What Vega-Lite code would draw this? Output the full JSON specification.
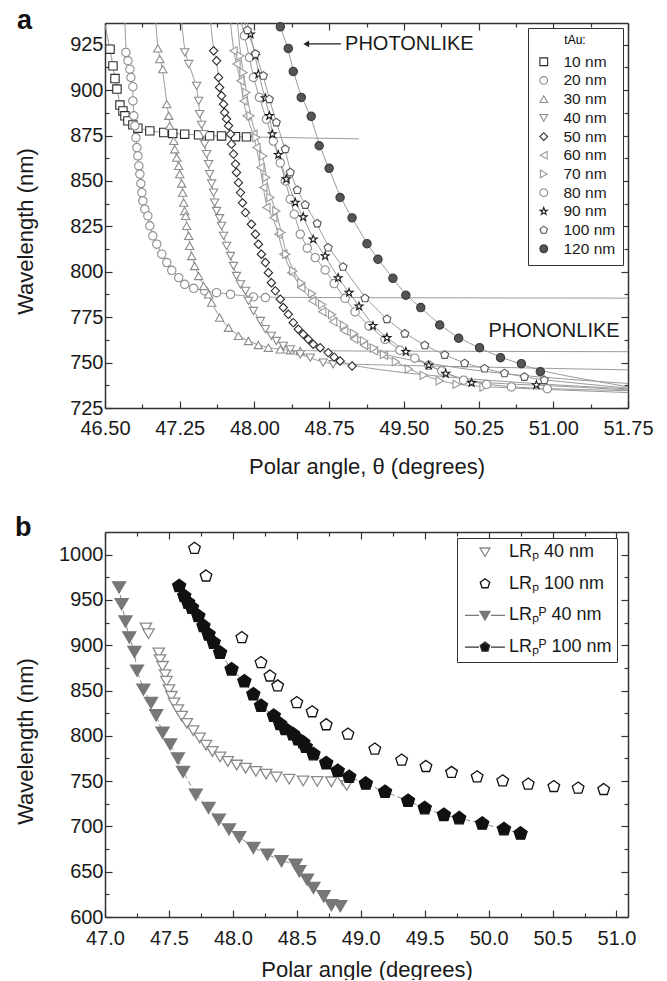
{
"$schema":"https://vega.github.io/schema/vega-lite/v6.json",
"background":"white",
"padding":{"left":14,"top":7,"right":5,"bottom":0},
"spacing":37,
"config":{"view":{"stroke":null},"font":"Liberation Sans",
"axis":{"grid":false,"domainColor":"#333","domainWidth":1.5,"tickColor":"#333","tickWidth":1.2,"labelFont":"Liberation Sans","labelFontSize":20,"labelColor":"#1a1a1a","titleFont":"Liberation Sans","titleFontSize":22,"titleFontWeight":"normal","titleColor":"#1a1a1a","labelFlush":false,"labelOverlap":false,"labelPadding":9}},
"datasets":{
"a":[
{"s":"10 nm","x":46.5,"y":936,"m":0},
{"s":"10 nm","x":46.55,"y":922.6},{"s":"10 nm","x":46.58,"y":913.4},{"s":"10 nm","x":46.6,"y":906.4},{"s":"10 nm","x":46.62,"y":900.6},{"s":"10 nm","x":46.65,"y":891.8},{"s":"10 nm","x":46.68,"y":888.6},{"s":"10 nm","x":46.7,"y":885.9},{"s":"10 nm","x":46.73,"y":883.1},{"s":"10 nm","x":46.78,"y":880.9},{"s":"10 nm","x":46.83,"y":879.1},{"s":"10 nm","x":46.95,"y":877.6},{"s":"10 nm","x":47.09,"y":876.7},{"s":"10 nm","x":47.18,"y":876.2},{"s":"10 nm","x":47.3,"y":875.8},{"s":"10 nm","x":47.44,"y":875.4},{"s":"10 nm","x":47.55,"y":874.9},{"s":"10 nm","x":47.67,"y":874.8},{"s":"10 nm","x":47.81,"y":874.4},{"s":"10 nm","x":47.92,"y":874.3},
{"s":"10 nm","x":49.05,"y":873.2,"m":0},
{"s":"20 nm","x":46.7,"y":937,"m":0},
{"s":"20 nm","x":46.71,"y":920.8},{"s":"20 nm","x":46.73,"y":916.2},{"s":"20 nm","x":46.75,"y":911.6},{"s":"20 nm","x":46.76,"y":907},{"s":"20 nm","x":46.78,"y":901.9},{"s":"20 nm","x":46.78,"y":894.1},{"s":"20 nm","x":46.79,"y":885.9},{"s":"20 nm","x":46.8,"y":880.4},{"s":"20 nm","x":46.81,"y":873.9},{"s":"20 nm","x":46.82,"y":868.4},{"s":"20 nm","x":46.83,"y":863.8},{"s":"20 nm","x":46.84,"y":858.3},{"s":"20 nm","x":46.85,"y":853.8},{"s":"20 nm","x":46.86,"y":848.6},{"s":"20 nm","x":46.87,"y":843.6},{"s":"20 nm","x":46.88,"y":839},{"s":"20 nm","x":46.9,"y":834.5},{"s":"20 nm","x":46.93,"y":830.8},{"s":"20 nm","x":46.95,"y":825.3},{"s":"20 nm","x":46.98,"y":819.8},{"s":"20 nm","x":47.02,"y":815.2},{"s":"20 nm","x":47.07,"y":809.7},{"s":"20 nm","x":47.12,"y":805.1},{"s":"20 nm","x":47.17,"y":800.8},{"s":"20 nm","x":47.24,"y":796.8},{"s":"20 nm","x":47.3,"y":793.1},{"s":"20 nm","x":47.39,"y":790.9},{"s":"20 nm","x":47.5,"y":789.5},{"s":"20 nm","x":47.62,"y":788.5},{"s":"20 nm","x":47.76,"y":787.6},{"s":"20 nm","x":47.99,"y":786.2},{"s":"20 nm","x":48.11,"y":785.8},
{"s":"20 nm","x":51.75,"y":785.5,"m":0},
{"s":"30 nm","x":47.01,"y":937,"m":0},
{"s":"30 nm","x":47.03,"y":923},{"s":"30 nm","x":47.05,"y":917.1},{"s":"30 nm","x":47.08,"y":911.6},{"s":"30 nm","x":47.12,"y":892.3},{"s":"30 nm","x":47.14,"y":885.9},{"s":"30 nm","x":47.15,"y":880.4},{"s":"30 nm","x":47.19,"y":872.1},{"s":"30 nm","x":47.2,"y":867.5},{"s":"30 nm","x":47.22,"y":862.9},{"s":"30 nm","x":47.24,"y":858.3},{"s":"30 nm","x":47.25,"y":853.8},{"s":"30 nm","x":47.27,"y":848.6},{"s":"30 nm","x":47.28,"y":843.6},{"s":"30 nm","x":47.29,"y":838.1},{"s":"30 nm","x":47.3,"y":833.5},{"s":"30 nm","x":47.31,"y":830.8},{"s":"30 nm","x":47.32,"y":825.3},{"s":"30 nm","x":47.34,"y":819.8},{"s":"30 nm","x":47.35,"y":814.3},{"s":"30 nm","x":47.37,"y":808.7},{"s":"30 nm","x":47.4,"y":803.2},{"s":"30 nm","x":47.44,"y":797.7},{"s":"30 nm","x":47.49,"y":792.2},{"s":"30 nm","x":47.54,"y":787.6},{"s":"30 nm","x":47.57,"y":783},{"s":"30 nm","x":47.65,"y":774.8},{"s":"30 nm","x":47.74,"y":769.2},{"s":"30 nm","x":47.84,"y":764.7},{"s":"30 nm","x":47.94,"y":761.9},{"s":"30 nm","x":48.04,"y":759.7},{"s":"30 nm","x":48.14,"y":758.2},{"s":"30 nm","x":48.26,"y":757.3},{"s":"30 nm","x":48.36,"y":756.8},{"s":"30 nm","x":48.46,"y":756.4},
{"s":"30 nm","x":51.75,"y":756,"m":0},
{"s":"40 nm","x":47.27,"y":937,"m":0},
{"s":"40 nm","x":47.3,"y":920.8},{"s":"40 nm","x":47.34,"y":914.4},{"s":"40 nm","x":47.42,"y":902.4},{"s":"40 nm","x":47.44,"y":894.1},{"s":"40 nm","x":47.45,"y":886.8},{"s":"40 nm","x":47.47,"y":880.9},{"s":"40 nm","x":47.49,"y":875.8},{"s":"40 nm","x":47.5,"y":870.3},{"s":"40 nm","x":47.52,"y":864.8},{"s":"40 nm","x":47.54,"y":859.3},{"s":"40 nm","x":47.55,"y":853.8},{"s":"40 nm","x":47.57,"y":848.6},{"s":"40 nm","x":47.59,"y":843.6},{"s":"40 nm","x":47.6,"y":838.1},{"s":"40 nm","x":47.62,"y":833.5},{"s":"40 nm","x":47.65,"y":829.5},{"s":"40 nm","x":47.67,"y":825.3},{"s":"40 nm","x":47.69,"y":819.8},{"s":"40 nm","x":47.72,"y":814.3},{"s":"40 nm","x":47.76,"y":808.7},{"s":"40 nm","x":47.79,"y":803.2},{"s":"40 nm","x":47.82,"y":797.7},{"s":"40 nm","x":47.86,"y":793.1},{"s":"40 nm","x":47.91,"y":789.5},{"s":"40 nm","x":47.94,"y":784},{"s":"40 nm","x":47.99,"y":778.4},{"s":"40 nm","x":48.06,"y":772.9},{"s":"40 nm","x":48.11,"y":768.4},{"s":"40 nm","x":48.17,"y":764.7},{"s":"40 nm","x":48.22,"y":761.9},{"s":"40 nm","x":48.29,"y":759.2},{"s":"40 nm","x":48.36,"y":757.3},{"s":"40 nm","x":48.46,"y":754.5},{"s":"40 nm","x":48.56,"y":752.7},{"s":"40 nm","x":48.69,"y":750},{"s":"40 nm","x":48.79,"y":749.1},
{"s":"40 nm","x":51.75,"y":746,"m":0},
{"s":"50 nm","x":47.56,"y":937,"m":0},
{"s":"50 nm","x":47.59,"y":921.7},{"s":"50 nm","x":47.62,"y":916.2},{"s":"50 nm","x":47.64,"y":907},{"s":"50 nm","x":47.65,"y":901.5},{"s":"50 nm","x":47.67,"y":896.9},{"s":"50 nm","x":47.69,"y":892.3},{"s":"50 nm","x":47.7,"y":887.7},{"s":"50 nm","x":47.72,"y":884.1},{"s":"50 nm","x":47.74,"y":880.4},{"s":"50 nm","x":47.76,"y":875.8},{"s":"50 nm","x":47.77,"y":870.3},{"s":"50 nm","x":47.79,"y":864.8},{"s":"50 nm","x":47.81,"y":859.3},{"s":"50 nm","x":47.82,"y":854.7},{"s":"50 nm","x":47.84,"y":849.1},{"s":"50 nm","x":47.86,"y":843.6},{"s":"50 nm","x":47.88,"y":838},{"s":"50 nm","x":47.91,"y":832.6},{"s":"50 nm","x":47.97,"y":826.2},{"s":"50 nm","x":48.01,"y":820.7},{"s":"50 nm","x":48.04,"y":815.2},{"s":"50 nm","x":48.07,"y":809.7},{"s":"50 nm","x":48.11,"y":805.1},{"s":"50 nm","x":48.14,"y":799.5},{"s":"50 nm","x":48.17,"y":794},{"s":"50 nm","x":48.21,"y":789.5},{"s":"50 nm","x":48.26,"y":784.9},{"s":"50 nm","x":48.29,"y":780.3},{"s":"50 nm","x":48.34,"y":776.6},{"s":"50 nm","x":48.39,"y":772},{"s":"50 nm","x":48.44,"y":768.4},{"s":"50 nm","x":48.49,"y":765.6},{"s":"50 nm","x":48.54,"y":762.9},{"s":"50 nm","x":48.59,"y":760.1},{"s":"50 nm","x":48.66,"y":758.2},{"s":"50 nm","x":48.74,"y":755.5},{"s":"50 nm","x":48.8,"y":753},{"s":"50 nm","x":48.86,"y":750.9},{"s":"50 nm","x":48.98,"y":748.1},
{"s":"50 nm","x":49.6,"y":743.5,"m":0},{"s":"50 nm","x":50.6,"y":739,"m":0},{"s":"50 nm","x":51.75,"y":735.5,"m":0},
{"s":"60 nm","x":47.76,"y":937,"m":0},
{"s":"60 nm","x":47.79,"y":921.7},{"s":"60 nm","x":47.82,"y":914.4},{"s":"60 nm","x":47.86,"y":905.2},{"s":"60 nm","x":47.89,"y":894.1},{"s":"60 nm","x":47.92,"y":885.9},{"s":"60 nm","x":47.99,"y":875.8},{"s":"60 nm","x":48.02,"y":868.4},{"s":"60 nm","x":48.06,"y":857.4},{"s":"60 nm","x":48.09,"y":846.4},{"s":"60 nm","x":48.12,"y":835.4},{"s":"60 nm","x":48.19,"y":829.8},{"s":"60 nm","x":48.24,"y":820.7},{"s":"60 nm","x":48.29,"y":809.7},{"s":"60 nm","x":48.37,"y":799.5},{"s":"60 nm","x":48.47,"y":791.2},{"s":"60 nm","x":48.58,"y":784},{"s":"60 nm","x":48.68,"y":778},{"s":"60 nm","x":48.79,"y":772.5},{"s":"60 nm","x":48.9,"y":767.5},{"s":"60 nm","x":49,"y":763},{"s":"60 nm","x":49.1,"y":759.5},{"s":"60 nm","x":49.2,"y":756.5},{"s":"60 nm","x":49.3,"y":754},
{"s":"60 nm","x":50.3,"y":744,"m":0},{"s":"60 nm","x":51.75,"y":738.5,"m":0},
{"s":"70 nm","x":47.83,"y":937,"m":0},
{"s":"70 nm","x":47.86,"y":918.9},{"s":"70 nm","x":47.89,"y":909.7},{"s":"70 nm","x":47.92,"y":898.7},{"s":"70 nm","x":47.96,"y":885.9},{"s":"70 nm","x":48.02,"y":873.9},{"s":"70 nm","x":48.09,"y":863.8},{"s":"70 nm","x":48.12,"y":851.9},{"s":"70 nm","x":48.16,"y":840.9},{"s":"70 nm","x":48.22,"y":833.5},{"s":"70 nm","x":48.27,"y":821.6},{"s":"70 nm","x":48.32,"y":809.7},{"s":"70 nm","x":48.39,"y":800.5},{"s":"70 nm","x":48.47,"y":794},{"s":"70 nm","x":48.58,"y":788},{"s":"70 nm","x":48.68,"y":782},{"s":"70 nm","x":48.78,"y":776.5},{"s":"70 nm","x":48.9,"y":770.5},{"s":"70 nm","x":49,"y":766},{"s":"70 nm","x":49.1,"y":762},{"s":"70 nm","x":49.2,"y":758},{"s":"70 nm","x":49.3,"y":754.5},{"s":"70 nm","x":49.42,"y":750.5},{"s":"70 nm","x":49.55,"y":746.5},{"s":"70 nm","x":49.7,"y":743},{"s":"70 nm","x":49.86,"y":740},{"s":"70 nm","x":50.03,"y":738},{"s":"70 nm","x":50.3,"y":736.5},
{"s":"70 nm","x":51.75,"y":733.5,"m":0},
{"s":"80 nm","x":47.87,"y":937,"m":0},
{"s":"80 nm","x":47.9,"y":930},{"s":"80 nm","x":47.95,"y":918},{"s":"80 nm","x":47.99,"y":907},{"s":"80 nm","x":48.05,"y":896},{"s":"80 nm","x":48.12,"y":884},{"s":"80 nm","x":48.19,"y":872},{"s":"80 nm","x":48.26,"y":860},{"s":"80 nm","x":48.31,"y":850},{"s":"80 nm","x":48.36,"y":840},{"s":"80 nm","x":48.4,"y":831.7},{"s":"80 nm","x":48.46,"y":820.7},{"s":"80 nm","x":48.53,"y":813},{"s":"80 nm","x":48.61,"y":807.8},{"s":"80 nm","x":48.71,"y":801},{"s":"80 nm","x":48.8,"y":793.5},{"s":"80 nm","x":48.91,"y":785.4},{"s":"80 nm","x":49.01,"y":777.9},{"s":"80 nm","x":49.15,"y":770.2},{"s":"80 nm","x":49.31,"y":762.8},{"s":"80 nm","x":49.46,"y":756.8},{"s":"80 nm","x":49.61,"y":752.4},{"s":"80 nm","x":49.75,"y":748.5},{"s":"80 nm","x":49.88,"y":745.4},{"s":"80 nm","x":50.1,"y":740.3},{"s":"80 nm","x":50.33,"y":738},{"s":"80 nm","x":50.58,"y":736.6},{"s":"80 nm","x":50.94,"y":735.6},
{"s":"80 nm","x":51.75,"y":734.5,"m":0},
{"s":"90 nm","x":47.93,"y":937,"m":0},
{"s":"90 nm","x":47.96,"y":930.8},{"s":"90 nm","x":48.01,"y":918.9},{"s":"90 nm","x":48.04,"y":908.8},{"s":"90 nm","x":48.11,"y":895.6},{"s":"90 nm","x":48.15,"y":885.9},{"s":"90 nm","x":48.18,"y":875.8},{"s":"90 nm","x":48.24,"y":864.4},{"s":"90 nm","x":48.32,"y":851},{"s":"90 nm","x":48.41,"y":838.1},{"s":"90 nm","x":48.49,"y":830.2},{"s":"90 nm","x":48.59,"y":817.9},{"s":"90 nm","x":48.71,"y":808.7},{"s":"90 nm","x":48.84,"y":796.6},{"s":"90 nm","x":48.95,"y":788.5},{"s":"90 nm","x":49.05,"y":781},{"s":"90 nm","x":49.19,"y":770.2},{"s":"90 nm","x":49.33,"y":763.7},{"s":"90 nm","x":49.52,"y":756},{"s":"90 nm","x":49.75,"y":748.5},{"s":"90 nm","x":49.92,"y":743.9},{"s":"90 nm","x":50.18,"y":738.9},{"s":"90 nm","x":50.83,"y":737.7},
{"s":"90 nm","x":51.75,"y":735,"m":0},
{"s":"100 nm","x":47.9,"y":937,"m":0},
{"s":"100 nm","x":47.93,"y":933},{"s":"100 nm","x":48.01,"y":920},{"s":"100 nm","x":48.09,"y":907.9},{"s":"100 nm","x":48.15,"y":895},{"s":"100 nm","x":48.22,"y":882.2},{"s":"100 nm","x":48.31,"y":867.5},{"s":"100 nm","x":48.36,"y":854.7},{"s":"100 nm","x":48.43,"y":845},{"s":"100 nm","x":48.51,"y":836.8},{"s":"100 nm","x":48.63,"y":826.6},{"s":"100 nm","x":48.74,"y":813.3},{"s":"100 nm","x":48.89,"y":802.7},{"s":"100 nm","x":49.11,"y":785.4},{"s":"100 nm","x":49.33,"y":773.9},{"s":"100 nm","x":49.51,"y":765.9},{"s":"100 nm","x":49.71,"y":759.5},{"s":"100 nm","x":49.91,"y":754.2},{"s":"100 nm","x":50.11,"y":749.6},{"s":"100 nm","x":50.31,"y":746.7},{"s":"100 nm","x":50.51,"y":744.1},{"s":"100 nm","x":50.71,"y":742.1},{"s":"100 nm","x":50.91,"y":740.3},
{"s":"100 nm","x":51.75,"y":736,"m":0},
{"s":"120 nm","x":48.23,"y":937,"m":0},
{"s":"120 nm","x":48.26,"y":934.9},{"s":"120 nm","x":48.34,"y":923},{"s":"120 nm","x":48.39,"y":910.3},{"s":"120 nm","x":48.47,"y":896},{"s":"120 nm","x":48.57,"y":885.6},{"s":"120 nm","x":48.65,"y":869.4},{"s":"120 nm","x":48.75,"y":857},{"s":"120 nm","x":48.86,"y":840.9},{"s":"120 nm","x":48.98,"y":829.7},{"s":"120 nm","x":49.13,"y":815.5},{"s":"120 nm","x":49.24,"y":806.9},{"s":"120 nm","x":49.39,"y":796.4},{"s":"120 nm","x":49.52,"y":787.1},{"s":"120 nm","x":49.67,"y":780.3},{"s":"120 nm","x":49.86,"y":770.7},{"s":"120 nm","x":50.05,"y":763.4},{"s":"120 nm","x":50.26,"y":758.2},{"s":"120 nm","x":50.47,"y":752.7},{"s":"120 nm","x":50.68,"y":749.4},{"s":"120 nm","x":50.87,"y":745},
{"s":"120 nm","x":51.75,"y":736.7,"m":0}
],
"b":[
{"s":"LRₚ 40 nm","x":47.32,"y":919.3},{"s":"LRₚ 40 nm","x":47.34,"y":913},{"s":"LRₚ 40 nm","x":47.42,"y":891.7},{"s":"LRₚ 40 nm","x":47.43,"y":884.3},{"s":"LRₚ 40 nm","x":47.45,"y":877},{"s":"LRₚ 40 nm","x":47.47,"y":867.8},{"s":"LRₚ 40 nm","x":47.48,"y":860.5},{"s":"LRₚ 40 nm","x":47.5,"y":851.3},{"s":"LRₚ 40 nm","x":47.52,"y":843.9},{"s":"LRₚ 40 nm","x":47.54,"y":836.6},{"s":"LRₚ 40 nm","x":47.57,"y":829.2},{"s":"LRₚ 40 nm","x":47.6,"y":822},{"s":"LRₚ 40 nm","x":47.64,"y":814},{"s":"LRₚ 40 nm","x":47.69,"y":806},{"s":"LRₚ 40 nm","x":47.74,"y":798},{"s":"LRₚ 40 nm","x":47.79,"y":790},{"s":"LRₚ 40 nm","x":47.84,"y":783},{"s":"LRₚ 40 nm","x":47.9,"y":777},{"s":"LRₚ 40 nm","x":47.96,"y":772},{"s":"LRₚ 40 nm","x":48.03,"y":768},{"s":"LRₚ 40 nm","x":48.1,"y":764.5},{"s":"LRₚ 40 nm","x":48.18,"y":761},{"s":"LRₚ 40 nm","x":48.26,"y":758},{"s":"LRₚ 40 nm","x":48.34,"y":755},{"s":"LRₚ 40 nm","x":48.44,"y":752.5},{"s":"LRₚ 40 nm","x":48.55,"y":750.5},{"s":"LRₚ 40 nm","x":48.66,"y":750},{"s":"LRₚ 40 nm","x":48.77,"y":749.5},{"s":"LRₚ 40 nm","x":48.86,"y":751},{"s":"LRₚ 40 nm","x":48.89,"y":745.5},
{"s":"LRₚ 100 nm","x":47.7,"y":1006.9},{"s":"LRₚ 100 nm","x":47.79,"y":976.4},{"s":"LRₚ 100 nm","x":48.07,"y":908.3},{"s":"LRₚ 100 nm","x":48.22,"y":880.7},{"s":"LRₚ 100 nm","x":48.29,"y":866},{"s":"LRₚ 100 nm","x":48.35,"y":855},{"s":"LRₚ 100 nm","x":48.5,"y":836.6},{"s":"LRₚ 100 nm","x":48.62,"y":826.5},{"s":"LRₚ 100 nm","x":48.73,"y":812.2},{"s":"LRₚ 100 nm","x":48.9,"y":801.8},{"s":"LRₚ 100 nm","x":49.11,"y":785.3},{"s":"LRₚ 100 nm","x":49.32,"y":773.1},{"s":"LRₚ 100 nm","x":49.51,"y":766.1},{"s":"LRₚ 100 nm","x":49.71,"y":759.5},{"s":"LRₚ 100 nm","x":49.91,"y":754.7},{"s":"LRₚ 100 nm","x":50.11,"y":750.3},{"s":"LRₚ 100 nm","x":50.31,"y":746.6},{"s":"LRₚ 100 nm","x":50.51,"y":744},{"s":"LRₚ 100 nm","x":50.7,"y":742.2},{"s":"LRₚ 100 nm","x":50.9,"y":740.7},
{"s":"LRₚᴾ 40 nm","x":47.11,"y":964.2},{"s":"LRₚᴾ 40 nm","x":47.13,"y":945.8},{"s":"LRₚᴾ 40 nm","x":47.16,"y":926.5},{"s":"LRₚᴾ 40 nm","x":47.19,"y":909},{"s":"LRₚᴾ 40 nm","x":47.23,"y":892.9},{"s":"LRₚᴾ 40 nm","x":47.25,"y":872.3},{"s":"LRₚᴾ 40 nm","x":47.3,"y":851.3},{"s":"LRₚᴾ 40 nm","x":47.36,"y":836.6},{"s":"LRₚᴾ 40 nm","x":47.4,"y":823},{"s":"LRₚᴾ 40 nm","x":47.45,"y":803.7},{"s":"LRₚᴾ 40 nm","x":47.51,"y":790.8},{"s":"LRₚᴾ 40 nm","x":47.57,"y":775.3},{"s":"LRₚᴾ 40 nm","x":47.61,"y":760.6},{"s":"LRₚᴾ 40 nm","x":47.71,"y":735.5},{"s":"LRₚᴾ 40 nm","x":47.81,"y":720.8},{"s":"LRₚᴾ 40 nm","x":47.89,"y":707.9},{"s":"LRₚᴾ 40 nm","x":47.97,"y":696.9},{"s":"LRₚᴾ 40 nm","x":48.05,"y":688.4},{"s":"LRₚᴾ 40 nm","x":48.16,"y":676.6},{"s":"LRₚᴾ 40 nm","x":48.27,"y":669.2},{"s":"LRₚᴾ 40 nm","x":48.38,"y":661.9},{"s":"LRₚᴾ 40 nm","x":48.49,"y":658.2},{"s":"LRₚᴾ 40 nm","x":48.52,"y":650.8},{"s":"LRₚᴾ 40 nm","x":48.58,"y":641.6},{"s":"LRₚᴾ 40 nm","x":48.63,"y":632.4},{"s":"LRₚᴾ 40 nm","x":48.71,"y":623.2},{"s":"LRₚᴾ 40 nm","x":48.77,"y":613.3},{"s":"LRₚᴾ 40 nm","x":48.84,"y":612.2},
{"s":"LRₚᴾ 100 nm","x":47.58,"y":965.3},{"s":"LRₚᴾ 100 nm","x":47.62,"y":954.3},{"s":"LRₚᴾ 100 nm","x":47.65,"y":947},{"s":"LRₚᴾ 100 nm","x":47.68,"y":941.4},{"s":"LRₚᴾ 100 nm","x":47.73,"y":932.2},{"s":"LRₚᴾ 100 nm","x":47.77,"y":921.2},{"s":"LRₚᴾ 100 nm","x":47.81,"y":911.9},{"s":"LRₚᴾ 100 nm","x":47.85,"y":902.8},{"s":"LRₚᴾ 100 nm","x":47.9,"y":891.7},{"s":"LRₚᴾ 100 nm","x":47.99,"y":873.3},{"s":"LRₚᴾ 100 nm","x":48.09,"y":860.1},{"s":"LRₚᴾ 100 nm","x":48.16,"y":845.8},{"s":"LRₚᴾ 100 nm","x":48.22,"y":833.1},{"s":"LRₚᴾ 100 nm","x":48.32,"y":822.1},{"s":"LRₚᴾ 100 nm","x":48.37,"y":812.9},{"s":"LRₚᴾ 100 nm","x":48.41,"y":807.4},{"s":"LRₚᴾ 100 nm","x":48.47,"y":801.8},{"s":"LRₚᴾ 100 nm","x":48.51,"y":796.3},{"s":"LRₚᴾ 100 nm","x":48.55,"y":792.6},{"s":"LRₚᴾ 100 nm","x":48.57,"y":787.8},{"s":"LRₚᴾ 100 nm","x":48.63,"y":779.7},{"s":"LRₚᴾ 100 nm","x":48.73,"y":769.8},{"s":"LRₚᴾ 100 nm","x":48.82,"y":761.3},{"s":"LRₚᴾ 100 nm","x":48.91,"y":754.7},{"s":"LRₚᴾ 100 nm","x":49.04,"y":747.3},{"s":"LRₚᴾ 100 nm","x":49.19,"y":738.1},{"s":"LRₚᴾ 100 nm","x":49.37,"y":728.2},{"s":"LRₚᴾ 100 nm","x":49.5,"y":720.1},{"s":"LRₚᴾ 100 nm","x":49.65,"y":712.7},{"s":"LRₚᴾ 100 nm","x":49.77,"y":709},{"s":"LRₚᴾ 100 nm","x":49.95,"y":703.1},{"s":"LRₚᴾ 100 nm","x":50.12,"y":696.9},{"s":"LRₚᴾ 100 nm","x":50.25,"y":692.1}
]},
"vconcat":[
{
"width":523,"height":385,
"title":{"text":"a","anchor":"start","frame":"group","dx":-88,"offset":-15,"fontSize":27,"fontWeight":"bold","color":"#111","font":"Liberation Sans"},
"resolve":{"axis":{"x":"independent","y":"independent"}},
"layer":[
{"data":{"name":"a"},
"mark":{"type":"line","clip":true,"interpolate":"basis","strokeWidth":1,"color":"#9a9a9a"},
"encoding":{
"x":{"field":"x","type":"quantitative","scale":{"domain":[46.5,51.75],"nice":false,"zero":false},
"axis":{"orient":"bottom","values":[46.5,46.875,47.25,47.625,48,48.375,48.75,49.125,49.5,49.875,50.25,50.625,51,51.375,51.75],
"labelExpr":"abs(datum.value/0.75-round(datum.value/0.75))<0.001 ? format(datum.value,'.2f') : ''",
"labelPadding":17,
"tickSize":{"condition":{"test":"abs(datum.value/0.75-round(datum.value/0.75))<0.001","value":-7},"value":-4},
"title":"Polar angle, θ (degrees)","titleY":58,"titleBaseline":"middle"}},
"y":{"field":"y","type":"quantitative","scale":{"domain":[725,937],"nice":false,"zero":false},
"axis":{"orient":"left","values":[725,737.5,750,762.5,775,787.5,800,812.5,825,837.5,850,862.5,875,887.5,900,912.5,925],
"labelExpr":"datum.value%25==0 ? format(datum.value,'d') : ''",
"tickSize":{"condition":{"test":"datum.value%25==0","value":-7},"value":-4},
"title":"Wavelength (nm)","titleX":-80,"titleY":208,"titleBaseline":"middle"}},
"detail":{"field":"s"},
"order":{"field":"y","sort":"descending"}}},
{"data":{"name":"a"},
"transform":[{"filter":"datum.m !== 0"}],
"mark":{"type":"point","strokeWidth":1.1,"opacity":1,"size":70},
"encoding":{
"x":{"field":"x","type":"quantitative",
"axis":{"orient":"top","values":[46.5,46.875,47.25,47.625,48,48.375,48.75,49.125,49.5,49.875,50.25,50.625,51,51.375,51.75],"labels":false,"title":null,
"tickSize":{"condition":{"test":"abs(datum.value/0.75-round(datum.value/0.75))<0.001","value":-7},"value":-4}}},
"y":{"field":"y","type":"quantitative",
"axis":{"orient":"right","values":[725,737.5,750,762.5,775,787.5,800,812.5,825,837.5,850,862.5,875,887.5,900,912.5,925],"labels":false,"title":null,
"tickSize":{"condition":{"test":"datum.value%25==0","value":-7},"value":-4}}},
"shape":{"field":"s","type":"nominal",
"scale":{"domain":["10 nm","20 nm","30 nm","40 nm","50 nm","60 nm","70 nm","80 nm","90 nm","100 nm","120 nm"],
"range":["square","circle","triangle-up","triangle-down","diamond","triangle-left","triangle-right","circle","M0,-1L0.235,-0.324L0.951,-0.309L0.38,0.124L0.588,0.809L0,0.4L-0.588,0.809L-0.38,0.124L-0.951,-0.309L-0.235,-0.324Z","M0,-1L0.951,-0.309L0.588,0.809L-0.588,0.809L-0.951,-0.309Z","circle"]},
"legend":{"title":"tAu:","orient":"none","legendX":423,"legendY":5,"padding":7,"strokeColor":"#333","fillColor":"white","titleFontSize":12,"titleFontWeight":"normal","titleAnchor":"middle","titlePadding":7,"labelFontSize":15.5,"labelFont":"Liberation Sans","labelColor":"#1a1a1a","symbolSize":60,"symbolStrokeWidth":1.1,"rowPadding":1.7,"labelOffset":12,"symbolOffset":1}},
"stroke":{"field":"s","type":"nominal",
"scale":{"domain":["10 nm","20 nm","30 nm","40 nm","50 nm","60 nm","70 nm","80 nm","90 nm","100 nm","120 nm"],
"range":["#2a2a2a","#8c8c8c","#8c8c8c","#8c8c8c","#2a2a2a","#9a9a9a","#9a9a9a","#8c8c8c","#1a1a1a","#555555","#3a3a3a"]},
"legend":{"title":"tAu:","orient":"none","legendX":423,"legendY":5,"padding":7,"strokeColor":"#333","fillColor":"white","titleFontSize":12,"titleFontWeight":"normal","titleAnchor":"middle","titlePadding":7,"labelFontSize":15.5,"labelFont":"Liberation Sans","labelColor":"#1a1a1a","symbolSize":60,"symbolStrokeWidth":1.1,"rowPadding":1.7,"labelOffset":12,"symbolOffset":1}},
"fill":{"field":"s","type":"nominal",
"scale":{"domain":["10 nm","20 nm","30 nm","40 nm","50 nm","60 nm","70 nm","80 nm","90 nm","100 nm","120 nm"],
"range":["white","white","white","white","white","white","white","white","white","white","#555555"]},
"legend":{"title":"tAu:","orient":"none","legendX":423,"legendY":5,"padding":7,"strokeColor":"#333","fillColor":"white","titleFontSize":12,"titleFontWeight":"normal","titleAnchor":"middle","titlePadding":7,"labelFontSize":15.5,"labelFont":"Liberation Sans","labelColor":"#1a1a1a","symbolSize":60,"symbolStrokeWidth":1.1,"rowPadding":1.7,"labelOffset":12,"symbolOffset":1}}}},
{"data":{"values":[{"x":48.53,"x2":48.87,"y":925.5}]},
"mark":{"type":"rule","color":"#222","strokeWidth":1.3},
"encoding":{"x":{"field":"x","type":"quantitative","axis":null},"x2":{"field":"x2"},"y":{"field":"y","type":"quantitative","axis":null}}},
{"data":{"values":[{"x":48.52,"y":925.5}]},
"mark":{"type":"point","shape":"triangle-left","filled":true,"color":"#222","size":45,"opacity":1},
"encoding":{"x":{"field":"x","type":"quantitative","axis":null},"y":{"field":"y","type":"quantitative","axis":null}}},
{"data":{"values":[{"x":48.91,"y":925.5,"t":"PHOTONLIKE"},{"x":50.35,"y":767.4,"t":"PHONONLIKE"}]},
"mark":{"type":"text","align":"left","baseline":"middle","fontSize":20,"font":"Liberation Sans","color":"#1a1a1a"},
"encoding":{"x":{"field":"x","type":"quantitative","axis":null},"y":{"field":"y","type":"quantitative","axis":null},"text":{"field":"t"}}}
]},
{
"width":523,"height":385,
"title":{"text":"b","anchor":"start","frame":"group","dx":-90,"offset":-11,"fontSize":27,"fontWeight":"bold","color":"#111","font":"Liberation Sans"},
"resolve":{"axis":{"x":"independent","y":"independent"},"scale":{"shape":"independent","fill":"independent","stroke":"independent"}},
"layer":[
{"data":{"name":"b"},
"transform":[{"filter":"indexof(datum.s,'ᴾ')>=0"}],
"mark":{"type":"line","strokeDash":[5,3],"strokeWidth":1,"color":"#8a8a8a"},
"encoding":{
"x":{"field":"x","type":"quantitative","scale":{"domain":[47,51.09],"nice":false,"zero":false},
"axis":{"orient":"bottom","values":[47,47.25,47.5,47.75,48,48.25,48.5,48.75,49,49.25,49.5,49.75,50,50.25,50.5,50.75,51],
"labelExpr":"abs(datum.value*2-round(datum.value*2))<0.001 ? format(datum.value,'.1f') : ''",
"labelPadding":18,
"tickSize":{"condition":{"test":"abs(datum.value*2-round(datum.value*2))<0.001","value":-7},"value":-4},
"title":"Polar angle (degrees)","titleY":52,"titleBaseline":"middle"}},
"y":{"field":"y","type":"quantitative","scale":{"domain":[600,1025],"nice":false,"zero":false},
"axis":{"orient":"left","values":[600,625,650,675,700,725,750,775,800,825,850,875,900,925,950,975,1000],
"labelExpr":"datum.value%50==0 ? format(datum.value,'d') : ''",
"tickSize":{"condition":{"test":"datum.value%50==0","value":-7},"value":-4},
"title":"Wavelength (nm)","titleX":-80,"titleY":209,"titleBaseline":"middle"}},
"detail":{"field":"s"}}},
{"data":{"name":"b"},
"mark":{"type":"point","strokeWidth":1.3,"opacity":1},
"encoding":{
"x":{"field":"x","type":"quantitative",
"axis":{"orient":"top","values":[47,47.25,47.5,47.75,48,48.25,48.5,48.75,49,49.25,49.5,49.75,50,50.25,50.5,50.75,51],"labels":false,"title":null,
"tickSize":{"condition":{"test":"abs(datum.value*2-round(datum.value*2))<0.001","value":-7},"value":-4}}},
"y":{"field":"y","type":"quantitative",
"axis":{"orient":"right","values":[600,625,650,675,700,725,750,775,800,825,850,875,900,925,950,975,1000],"labels":false,"title":null,
"tickSize":{"condition":{"test":"datum.value%50==0","value":-7},"value":-4}}},
"shape":{"field":"s","type":"nominal","scale":{"domain":["LRₚ 40 nm","LRₚ 100 nm","LRₚᴾ 40 nm","LRₚᴾ 100 nm"],
"range":["M-1,-0.8L1,-0.8L0,0.9Z","M0,-1L0.951,-0.309L0.588,0.809L-0.588,0.809L-0.951,-0.309Z","M-1,-0.8L1,-0.8L0,0.9Z","M0,-1L0.951,-0.309L0.588,0.809L-0.588,0.809L-0.951,-0.309Z"]},"legend":null},
"stroke":{"field":"s","type":"nominal","scale":{"domain":["LRₚ 40 nm","LRₚ 100 nm","LRₚᴾ 40 nm","LRₚᴾ 100 nm"],"range":["#8a8a8a","#111111","#777777","#111111"]},"legend":null},
"fill":{"field":"s","type":"nominal","scale":{"domain":["LRₚ 40 nm","LRₚ 100 nm","LRₚᴾ 40 nm","LRₚᴾ 100 nm"],"range":["white","white","#777777","#111111"]},"legend":null},
"size":{"field":"s","type":"nominal","scale":{"domain":["LRₚ 40 nm","LRₚ 100 nm","LRₚᴾ 40 nm","LRₚᴾ 100 nm"],"range":[130,190,170,190]},"legend":null}}},
{"data":{"name":"b"},
"transform":[{"filter":"false"}],
"mark":{"type":"point","strokeWidth":1.3,"opacity":1},
"encoding":{
"x":{"field":"x","type":"quantitative","axis":null},
"y":{"field":"y","type":"quantitative","axis":null},
"shape":{"field":"s","type":"nominal","scale":{"domain":["LRₚ 40 nm","LRₚ 100 nm","LRₚᴾ 40 nm","LRₚᴾ 100 nm"],
"range":["M-1,-0.8L1,-0.8L0,0.9Z","M0,-1L0.951,-0.309L0.588,0.809L-0.588,0.809L-0.951,-0.309Z","M-4,0H-1.2M1.2,0H4M-1,-0.8L1,-0.8L0,0.9Z","M-4,0H-1.2M1.2,0H4M0,-1L0.951,-0.309L0.588,0.809L-0.588,0.809L-0.951,-0.309Z"]},
"legend":{"title":null,"orient":"none","legendX":352,"legendY":6,"padding":5,"strokeColor":"#333","fillColor":"white","labelFontSize":18,"labelFont":"Liberation Sans","labelColor":"#1a1a1a","symbolSize":100,"symbolStrokeWidth":1.3,"rowPadding":13.7,"labelOffset":15,"symbolOffset":14,"symbolOpacity":1}},
"stroke":{"field":"s","type":"nominal","scale":{"domain":["LRₚ 40 nm","LRₚ 100 nm","LRₚᴾ 40 nm","LRₚᴾ 100 nm"],"range":["#8a8a8a","#111111","#777777","#333333"]},
"legend":{"title":null,"orient":"none","legendX":352,"legendY":6,"padding":5,"strokeColor":"#333","fillColor":"white","labelFontSize":18,"labelFont":"Liberation Sans","labelColor":"#1a1a1a","symbolSize":100,"symbolStrokeWidth":1.3,"rowPadding":13.7,"labelOffset":15,"symbolOffset":14,"symbolOpacity":1}},
"fill":{"field":"s","type":"nominal","scale":{"domain":["LRₚ 40 nm","LRₚ 100 nm","LRₚᴾ 40 nm","LRₚᴾ 100 nm"],"range":["white","white","#777777","#111111"]},
"legend":{"title":null,"orient":"none","legendX":352,"legendY":6,"padding":5,"strokeColor":"#333","fillColor":"white","labelFontSize":18,"labelFont":"Liberation Sans","labelColor":"#1a1a1a","symbolSize":100,"symbolStrokeWidth":1.3,"rowPadding":13.7,"labelOffset":15,"symbolOffset":14,"symbolOpacity":1}}}}
]}
]
}
